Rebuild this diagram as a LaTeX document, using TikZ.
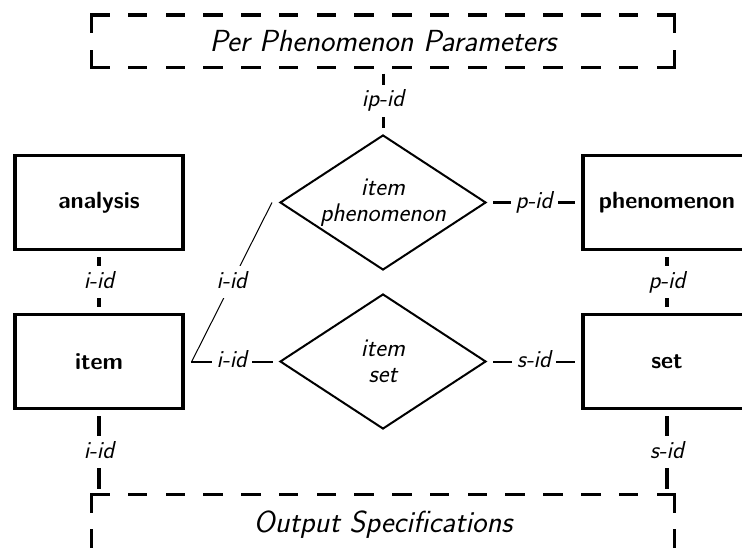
\documentclass[tikz,border=0pt]{standalone}
\usetikzlibrary{shapes.geometric}
\begin{document}
\begin{tikzpicture}[x=1pt,y=-1pt,
  entity/.style={draw, line width=3.5pt, rectangle, minimum width=168pt,
    minimum height=94pt, inner sep=0pt,
    font=\sffamily\bfseries\fontsize{23.5}{27}\selectfont},
  relship/.style={draw, line width=2pt, diamond, aspect=1.53,
    minimum width=206pt, minimum height=135pt, inner sep=0pt, align=center,
    font=\sffamily\slshape\fontsize{25.5}{26}\selectfont},
  extbox/.style={rectangle, draw=none, outer sep=0pt, inner sep=0pt,
    minimum width=582.7pt, minimum height=52.6pt,
    font=\sffamily\slshape\fontsize{30.5}{36}\selectfont},
  hdash/.style={line width=3.3pt, line cap=rect, dash pattern=on 16.2pt off 21.57pt},
  vdash/.style={line width=3.3pt, line cap=rect, dash pattern=on 16.2pt off 20.2pt},
  lbl/.style={fill=white, inner xsep=5pt, inner ysep=6pt, text height=16pt,
    text depth=4pt, font=\sffamily\slshape\fontsize{24.5}{27}\selectfont},
  link/.style={shorten <=6pt, shorten >=6pt},
  heavy/.style={link, line width=3.5pt},
  medium/.style={link, line width=3pt},
  light/.style={link, line width=2pt}]

\useasboundingbox (0,0) rectangle (742,548);
\clip (0,0) rectangle (742,548);

% entities
\node[entity] (analysis)   at (99,202.5)  {analysis};
\node[entity] (item)       at (99,361.5)  {item};
\node[entity] (phenomenon) at (667,202.5) {phenomenon};
\node[entity] (set)        at (667,361.5) {set};

% relationships
\node[relship] (ip) at (383,202.5) {item\\phenomenon};
\node[relship] (is) at (383,361.5) {item\\set};

% external parameter / output boxes (the output box runs past the lower edge)
\node[extbox] (params) at (383,41.3) {Per Phenomenon Parameters};
\node[extbox, minimum height=60pt, anchor=north] (output) at (383,494.7)
  {\raisebox{5pt}{Output Specifications}};
\foreach \b in {params,output}{
  \draw[hdash] (\b.north west) -- (\b.north east);
  \draw[hdash] (\b.south west) -- (\b.south east);
  \draw[vdash] (\b.north west) -- (\b.south west);
  \draw[vdash] (\b.north east) -- (\b.south east);
}

% connectors
\draw[medium] (params) -- node[lbl] {ip-id} (ip);
\draw[heavy] (analysis) -- node[lbl] {i-id} (item);
\draw[heavy] (phenomenon) -- node[lbl] {p-id} (set);
\draw[medium] (ip) -- node[lbl] {p-id} (phenomenon);
\draw[light] (is) -- node[lbl] {s-id} (set);
\draw[light] (item) -- node[lbl] {i-id} (is);
\draw[line width=1pt] ([xshift=7pt]item.east) -- node[lbl] {i-id} ([xshift=-7pt]ip.west);
\draw[heavy] (item) -- node[lbl] {i-id} (item |- output.north);
\draw[heavy] (set) -- node[lbl] {s-id} (set |- output.north);

\end{tikzpicture}
\end{document}
